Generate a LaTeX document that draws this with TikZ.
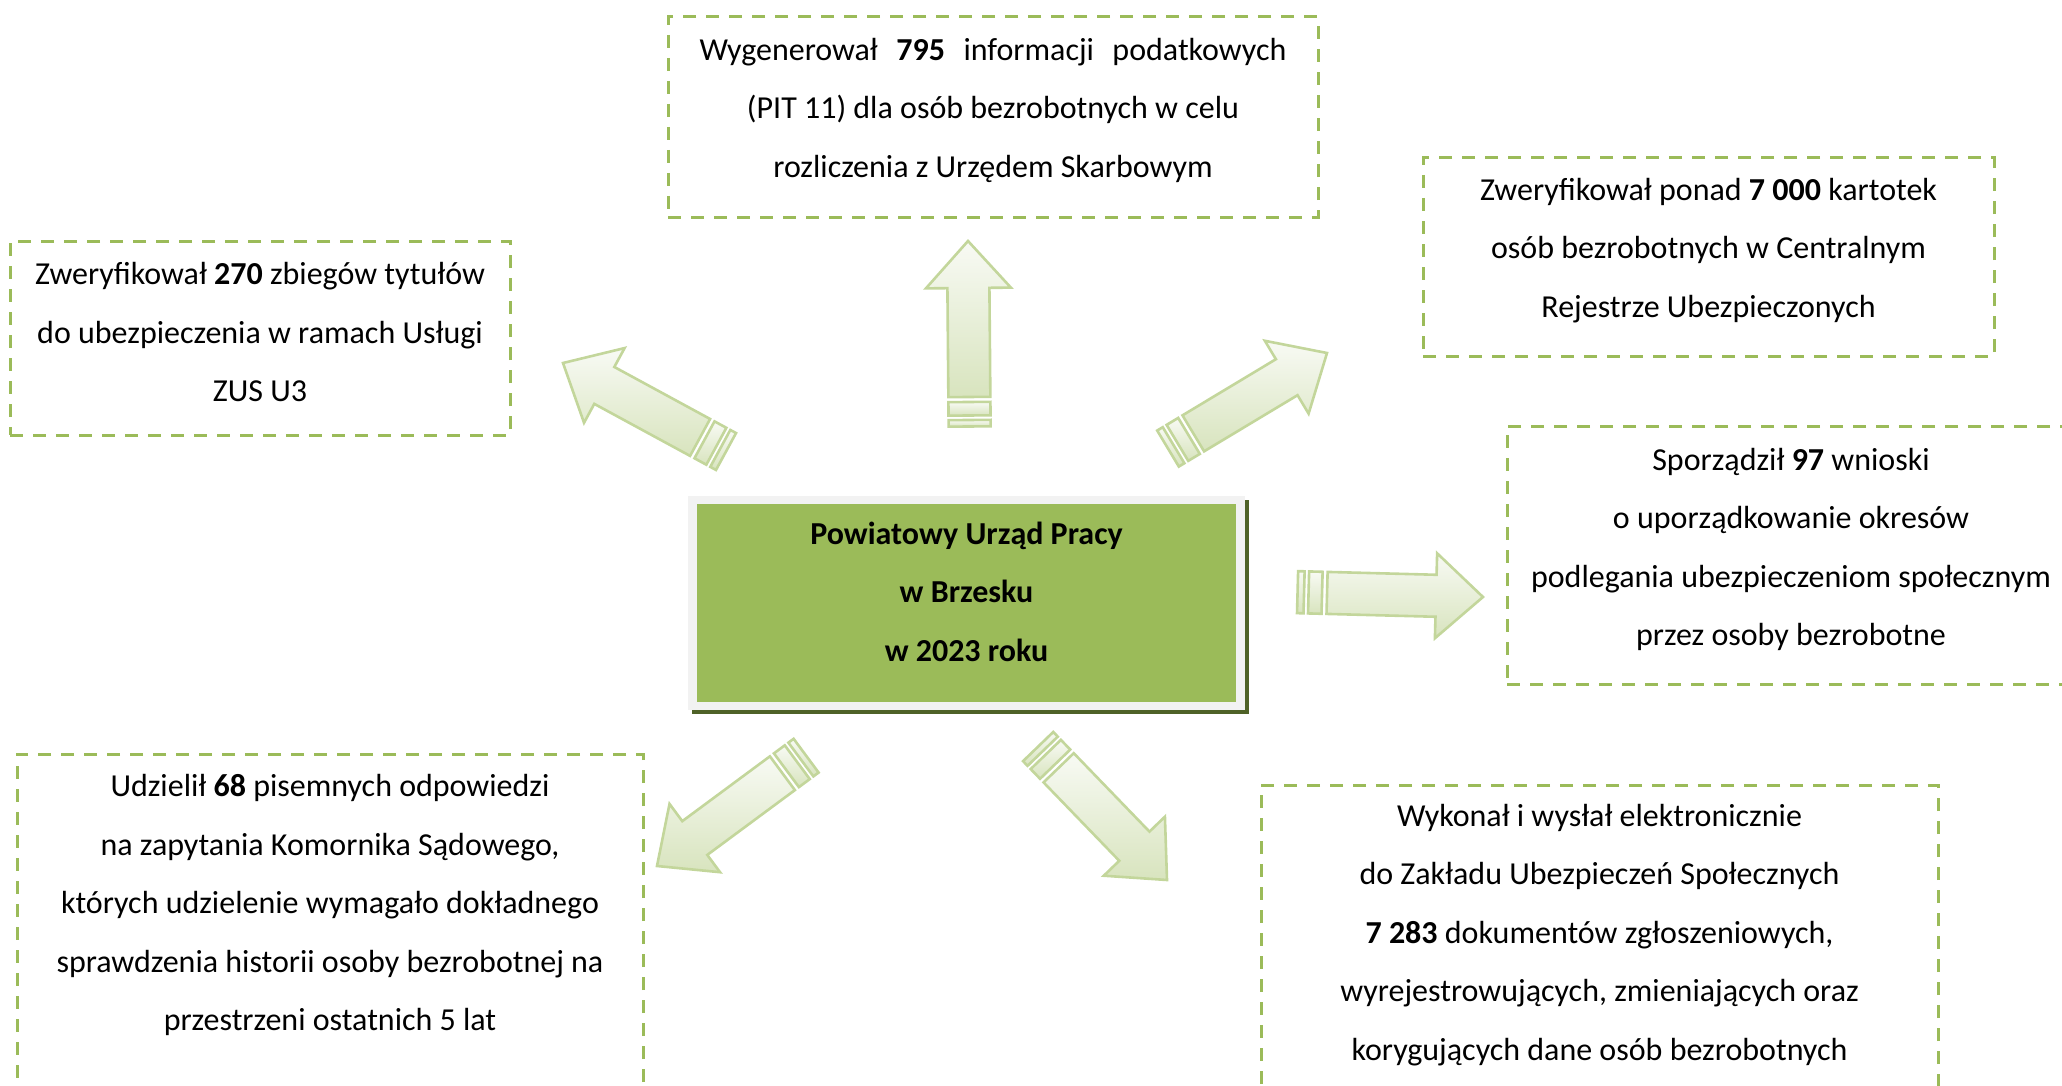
\documentclass[tikz,border=0pt]{standalone}
\usepackage{fontspec}
\setmainfont{Carlito}
\usepackage{tikz}
\usetikzlibrary{positioning,backgrounds}
\definecolor{pupgreen}{HTML}{9BBB59}
\definecolor{shadowolive}{HTML}{4F6228}
\definecolor{framegrey}{HTML}{F2F2F2}
\definecolor{arrowline}{HTML}{C3D69B}
\definecolor{arrowtop}{HTML}{F8FAF4}
\definecolor{arrowbottom}{HTML}{D8E4BE}
\newcommand{\lowgap}[1]{\rule[-#1]{0pt}{#1}}

\begin{document}
\begin{tikzpicture}[
  x=0.5pt,y=-0.5pt,
  font=\fontsize{16}{29.25}\selectfont,
  infobox/.style={rectangle,draw=pupgreen,line width=1.5pt,dash pattern=on 6.5pt off 5pt,align=center,inner sep=0pt},
  centrebox/.style={rectangle,draw=framegrey,line width=4.25pt,fill=pupgreen,align=center,inner sep=0pt,font=\fontsize{16}{29.25}\selectfont\bfseries},
  arrowbody/.style={draw=arrowline,line width=1.3pt,top color=arrowtop,bottom color=arrowbottom},
  fatarrow/.pic={
    \path[arrowbody] (0,0) -- (-47,42.5) -- (-47,21) -- (-156,21) -- (-156,-21) -- (-47,-21) -- (-47,-42.5) -- cycle;
    \path[arrowbody] (-161,21) rectangle (-174.5,-21);
    \path[arrowbody] (-179,21) rectangle (-185.5,-21);
  },
]
\clip (0,0) rectangle (2062,1086);

% centre
\node[centrebox,minimum width=274pt,minimum height=103pt] (pup) at (966.5,603)
  {Powiatowy Urząd Pracy\\ w Brzesku\\ w 2023 roku\lowgap{11.5pt}};
\begin{scope}[on background layer]
  \fill[shadowolive] ([shift={(4,4)}]pup.north west) rectangle ([shift={(4,4)}]pup.south east);
\end{scope}

% boxes round it
\node[infobox,minimum width=325pt,minimum height=100pt] (pit) at (993,117)
  {\makebox[293.5pt][s]{Wygenerował \textbf{795} informacji podatkowych}\\
   (PIT 11) dla osób bezrobotnych w celu\\
   rozliczenia z Urzędem Skarbowym\lowgap{9.5pt}};
\node[infobox,minimum width=250pt,minimum height=97pt] (zus) at (260,338)
  {Zweryfikował \textbf{270} zbiegów tytułów\\
   do ubezpieczenia w ramach Usługi\\
   ZUS U3\lowgap{6pt}};
\node[infobox,minimum width=285.5pt,minimum height=99pt] (cru) at (1708.5,257)
  {Zweryfikował ponad \textbf{7~000} kartotek\\
   osób bezrobotnych w Centralnym\\
   Rejestrze Ubezpieczonych\lowgap{9.5pt}};
\node[infobox,minimum width=284pt,minimum height=129pt] (wnioski) at (1791,555)
  {Sporządził \textbf{97} wnioski\\
   o uporządkowanie okresów\\
   podlegania ubezpieczeniom społecznym\\
   przez osoby bezrobotne\lowgap{8pt}};
\node[infobox,minimum width=313pt,minimum height=173pt] (komornik) at (330,927)
  {Udzielił \textbf{68} pisemnych odpowiedzi\\
   na zapytania Komornika Sądowego,\\
   których udzielenie wymagało dokładnego\\
   sprawdzenia historii osoby bezrobotnej na\\
   przestrzeni ostatnich 5 lat\lowgap{24.5pt}};
\node[infobox,minimum width=338.5pt,minimum height=157.5pt] (zgloszenia) at (1599.5,942.5)
  {Wykonał i wysłał elektronicznie\\
   do Zakładu Ubezpieczeń Społecznych\\
   \textbf{7~283} dokumentów zgłoszeniowych,\\
   wyrejestrowujących, zmieniających oraz\\
   korygujących dane osób bezrobotnych\lowgap{10.5pt}};

% arrows
\pic[rotate=90.5] (uparrow) at (968,241) {fatarrow};
\pic[rotate=151.5] (leftuparrow) at (563,363) {fatarrow};
\pic[rotate=31] (rightuparrow) at (1327,353) {fatarrow};
\pic[rotate=-1.5] (rightarrow) at (1483,597) {fatarrow};
\pic[rotate=-46] (rightdownarrow) at (1167,880) {fatarrow};
\pic[rotate=-143.5] (leftdownarrow) at (657,866) {fatarrow};
\end{tikzpicture}
\end{document}
